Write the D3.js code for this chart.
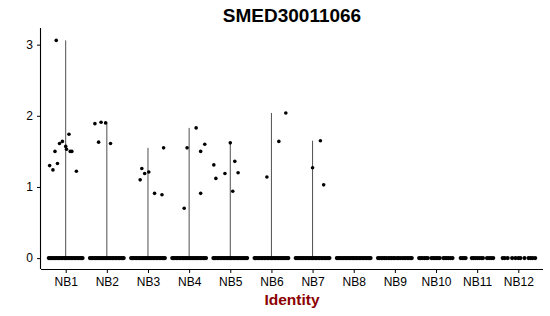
<!DOCTYPE html>
<html lang="en">
<head>
    <meta charset="UTF-8">
    <title>SMED30011066</title>
    <script src="https://d3js.org/d3.v7.min.js"></script>
    <style>
        body { margin: 0; background: #fff; }
        svg { display: block; font-family: "Liberation Sans", Arial, Helvetica, sans-serif; }
    </style>
</head>
<body>
    <svg width="550" height="316"></svg>

    <script>
        const title = "SMED30011066";
        const xLabel = "Identity";
        const categories = ["NB1", "NB2", "NB3", "NB4", "NB5", "NB6", "NB7", "NB8", "NB9", "NB10", "NB11", "NB12"];
        const yTicks = [0, 1, 2, 3];

        // non-zero cells per identity: [jitter (category units), expression]
        const nonZero = {
            NB1: [[-0.23, 3.06], [0.08, 1.74], [-0.08, 1.64], [-0.15, 1.61], [0.0, 1.57], [0.02, 1.53],
                  [0.11, 1.50], [0.15, 1.50], [-0.26, 1.50], [-0.39, 1.30], [-0.20, 1.33], [-0.31, 1.24], [0.26, 1.22]],
            NB2: [[-0.29, 1.89], [-0.14, 1.91], [-0.03, 1.90], [-0.20, 1.63], [0.09, 1.61]],
            NB3: [[0.38, 1.55], [-0.15, 1.26], [-0.08, 1.19], [0.02, 1.21], [-0.19, 1.10], [0.16, 0.91], [0.34, 0.89]],
            NB4: [[0.17, 1.83], [-0.05, 1.55], [0.38, 1.60], [0.28, 1.50], [0.28, 0.91], [-0.12, 0.70]],
            NB5: [[0.0, 1.62], [0.11, 1.36], [-0.40, 1.31], [-0.13, 1.19], [0.19, 1.20], [-0.35, 1.12], [0.06, 0.94]],
            NB6: [[0.35, 2.04], [0.18, 1.64], [-0.11, 1.14]],
            NB7: [[0.19, 1.65], [0.0, 1.27], [0.27, 1.03]],
            NB8: [], NB9: [], NB10: [], NB11: [], NB12: []
        };

        // jitter of the zero-expression cells
        const denseZeros = [-0.41, -0.38, -0.35, -0.31, -0.28, -0.24, -0.21, -0.17, -0.14, -0.10, -0.07, -0.03,
                            0.0, 0.03, 0.07, 0.10, 0.14, 0.17, 0.21, 0.24, 0.28, 0.31, 0.35, 0.38, 0.41];
        const zeros = {
            NB1: denseZeros, NB2: denseZeros, NB3: denseZeros, NB4: denseZeros, NB5: denseZeros,
            NB6: denseZeros, NB7: denseZeros, NB8: denseZeros,
            NB9: [-0.41, -0.37, -0.33, -0.29, -0.25, -0.21, -0.16, -0.12, -0.08, -0.04, 0.0, 0.05, 0.09, 0.13,
                  0.18, 0.22, 0.26, 0.30, 0.34, 0.38, 0.41],
            NB10: [-0.41, -0.37, -0.33, -0.28, -0.24, -0.20, -0.11, -0.07, -0.03, 0.01, 0.05, 0.09, 0.18, 0.22,
                   0.26, 0.30, 0.35, 0.40],
            NB11: [-0.40, -0.36, -0.32, -0.28, -0.13, -0.09, -0.05, 0.0, 0.05, 0.10, 0.14, 0.24, 0.29, 0.34, 0.39],
            NB12: [-0.38, -0.33, -0.26, -0.15, -0.07, 0.0, 0.05, 0.15, 0.25, 0.30, 0.35, 0.41]
        };

        const svg = d3.select("svg");
        const mLeft = 41, mRight = 543, mTop = 29.5, mBottom = 269;

        const x = d3.scalePoint().domain(categories).range([mLeft, mRight]).padding(0.6);
        const step = x.step();

        const maxVal = d3.max(categories, c => d3.max(nonZero[c], d => d[1]) || 0);
        const pad = maxVal * 0.05;
        const y = d3.scaleLinear().domain([-pad, maxVal + pad]).range([mBottom, mTop]);

        // violins (collapsed to thin lines, almost all cells are zero)
        categories.forEach(c => {
            const vmax = d3.max(nonZero[c], d => d[1]);
            if (!vmax) return;
            svg.append("line")
                .attr("x1", x(c)).attr("x2", x(c))
                .attr("y1", y(0)).attr("y2", y(vmax))
                .attr("stroke", "#222")
                .attr("stroke-width", 0.8);
        });

        // jittered cells
        const pts = [];
        categories.forEach(c => {
            zeros[c].forEach(j => pts.push([c, j, 0]));
            nonZero[c].forEach(d => pts.push([c, d[0], d[1]]));
        });
        svg.append("g").selectAll("circle")
            .data(pts)
            .join("circle")
            .attr("cx", d => x(d[0]) + d[1] * step)
            .attr("cy", d => y(d[2]))
            .attr("r", d => d[2] === 0 ? 2.1 : 1.8)
            .attr("fill", "#000");

        // axes
        const xAxis = svg.append("g")
            .attr("transform", `translate(0,${mBottom})`)
            .call(d3.axisBottom(x).tickSize(4).tickPadding(4).tickSizeOuter(0));
        xAxis.select(".domain").attr("d", `M${mLeft},0.5H${mRight}`).attr("stroke-width", 1.1);
        xAxis.selectAll("text").attr("font-size", 12).attr("fill", "#000");
        xAxis.attr("font-family", null);

        const yAxis = svg.append("g")
            .attr("transform", `translate(${mLeft},0)`)
            .call(d3.axisLeft(y).tickValues(yTicks).tickFormat(d3.format("d"))
                .tickSize(4).tickPadding(4).tickSizeOuter(0));
        yAxis.select(".domain").attr("d", `M-0.5,${mTop - 1.5}V${mBottom}`).attr("stroke-width", 1.1);
        yAxis.selectAll("text").attr("font-size", 12).attr("fill", "#000");
        yAxis.attr("font-family", null);

        svg.append("text")
            .attr("x", (mLeft + mRight) / 2)
            .attr("y", 22)
            .attr("text-anchor", "middle")
            .attr("font-size", 19)
            .attr("font-weight", "bold")
            .text(title);

        svg.append("text")
            .attr("x", (mLeft + mRight) / 2)
            .attr("y", 305)
            .attr("text-anchor", "middle")
            .attr("font-size", 15.5)
            .attr("font-weight", "bold")
            .attr("fill", "#8B0000")
            .text(xLabel);
    </script>
</body>
</html>
